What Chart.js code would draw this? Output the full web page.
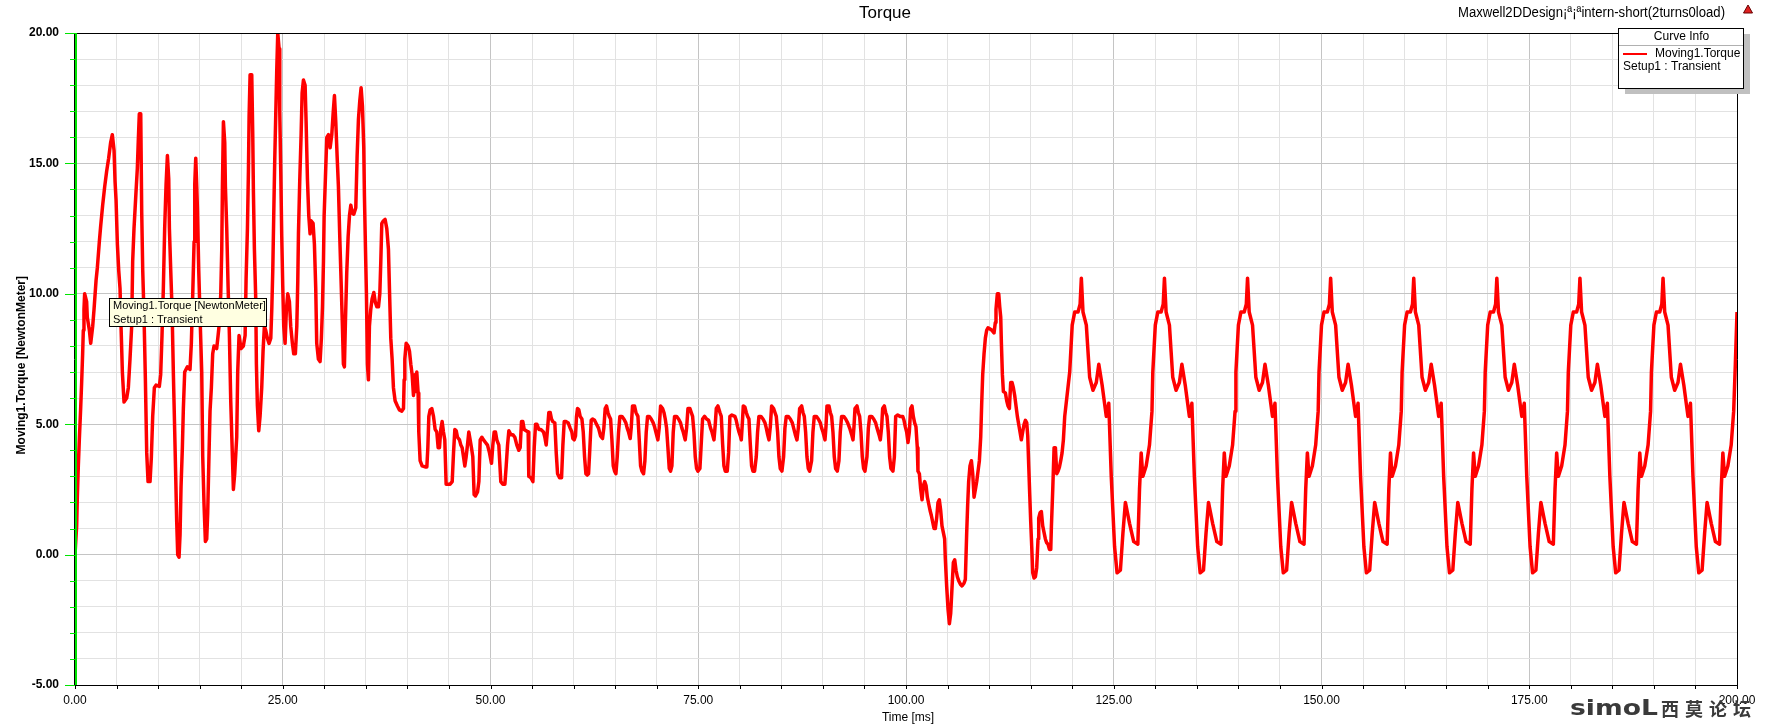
<!DOCTYPE html>
<html>
<head>
<meta charset="utf-8">
<script src="https://cdn.jsdelivr.net/npm/chart.js@4.4.1/dist/chart.umd.min.js"></script>
<style>
html,body{margin:0;padding:0;background:#fff;}
#wrap{width:1771px;height:728px;position:relative;overflow:hidden;}
</style>
</head>
<body>
<div id="wrap"><canvas id="c" width="1771" height="728"></canvas></div>
<script>
const chartTitle = "Torque";
const designLabel = "Maxwell2DDesign¡ª¡ªintern-short(2turns0load)";
const xAxisTitle = "Time [ms]";
const yAxisTitle = "Moving1.Torque [NewtonMeter]";
const legendTitle = "Curve Info";
const seriesName = "Moving1.Torque";
const seriesSetup = "Setup1 : Transient";
const noteLines = ["Moving1.Torque [NewtonMeter]", "Setup1 : Transient"];
const watermarkLatin = "simoL";
const watermarkCJK = "西莫论坛";
const xRange = [0, 200];
const yRange = [-5, 20];
const xLabelEvery = 25;
const yLabelEvery = 5;

// [time ms, torque N·m]
const startupSamples = [
[0,0.0],[0.2,1.1],[0.28,2.2],[0.4,3.4],[0.52,4.4],[0.68,5.6],[0.8,6.6],[0.92,7.7],[1.0,8.6],[1.08,9.4],[1.16,10.0],[1.40,9.7],[1.48,9.1],[1.73,8.6],[1.89,8.1],[2.13,8.75],[2.29,9.4],[2.53,10.5],[2.69,11.0],[2.93,12.0],[3.09,12.6],[3.33,13.4],[3.57,14.1],[3.81,14.7],[4.05,15.2],[4.29,15.8],[4.49,16.1],[4.70,15.5],[4.82,14.3],[4.94,13.6],[5.10,11.9],[5.26,10.9],[5.42,10.2],[5.54,8.75],[5.70,7.0],[5.90,5.85],[6.22,6.0],[6.42,6.4],[6.62,7.5],[6.82,8.75],[6.94,11.25],[7.10,12.5],[7.34,13.9],[7.50,14.8],[7.62,15.9],[7.74,16.9],[7.91,16.9],[8.03,13.1],[8.15,10.9],[8.31,9.1],[8.47,6.7],[8.63,3.9],[8.79,2.8],[9.03,2.8],[9.19,3.75],[9.35,5.3],[9.55,6.4],[9.75,6.5],[10.15,6.45],[10.31,6.9],[10.47,8.4],[10.63,10.2],[10.79,12.5],[10.96,14.2],[11.12,15.3],[11.28,14.4],[11.36,12.5],[11.52,10.9],[11.68,9.4],[11.84,6.9],[12.0,4.7],[12.12,3.0],[12.24,1.25],[12.36,0.0],[12.52,-0.1],[12.64,0.75],[12.76,2.6],[12.92,4.1],[13.04,5.6],[13.20,7.0],[13.52,7.2],[13.84,7.1],[14.0,8.1],[14.17,10.0],[14.33,12.0],[14.41,14.2],[14.53,15.2],[14.65,14.1],[14.73,13.3],[14.89,10.9],[15.05,9.1],[15.25,7.0],[15.37,3.75],[15.53,1.9],[15.69,0.5],[15.85,0.6],[15.97,1.6],[16.13,3.9],[16.25,5.5],[16.41,6.4],[16.57,7.7],[16.73,8.0],[17.05,7.9],[17.22,8.4],[17.38,8.9],[17.54,10.0],[17.66,11.7],[17.74,14.1],[17.86,16.6],[18.02,15.8],[18.10,14.1],[18.26,12.5],[18.42,10.3],[18.58,8.4],[18.74,5.9],[18.90,4.2],[19.06,2.5],[19.22,3.1],
[19.46,4.5],[19.58,7.0],[19.74,8.4],[19.98,7.9],[20.26,8.0],[20.47,8.4],[20.59,10.6],[20.75,12.5],[20.87,14.7],[20.95,16.8],[21.07,18.4],[21.27,18.4],[21.39,16.1],[21.47,13.9],[21.59,11.7],[21.75,9.8],[21.83,7.3],[21.95,5.7],[22.11,4.75],[22.27,5.3],[22.47,6.4],[22.63,7.8],[22.79,8.75],[22.95,8.6],[23.15,8.3],[23.35,8.1],[23.56,8.3],[23.68,9.4],[23.80,10.9],[23.92,13.1],[24.04,15.2],[24.16,16.9],[24.28,18.6],[24.40,20.0],[24.56,19.4],[24.64,17.0],[24.76,14.7],[24.88,12.2],[25.0,10.3],[25.12,8.75],[25.28,8.1],[25.44,9.4],[25.60,10.0],[25.80,9.7],[25.96,8.75],[26.16,8.1],[26.32,7.7],[26.52,7.7],[26.69,8.75],[26.81,10.5],[26.89,12.3],[27.05,14.4],[27.21,16.1],[27.33,17.7],[27.49,18.2],[27.69,18.0],[27.81,16.6],[27.97,14.4],[28.13,13.0],[28.29,12.3],[28.41,12.8],[28.65,12.7],[28.81,11.9],[28.97,10.2],[29.09,8.1],[29.29,7.5],[29.49,7.4],[29.65,8.3],[29.78,9.5],[29.90,11.25],[29.98,13.0],[30.14,14.5],[30.30,16.0],[30.50,16.1],[30.70,15.6],[30.90,16.1],[31.06,16.9],[31.22,17.6],[31.38,16.6],[31.54,15.3],[31.70,14.1],[31.86,12.2],[32.02,10.5],[32.18,8.75],[32.30,7.3],[32.42,7.2],[32.54,8.9],[32.70,10.8],[32.87,12.2],[33.03,13.0],[33.19,13.4],[33.35,13.1],[33.55,13.05],[33.79,13.3],[33.95,15.3],[34.11,16.7],[34.27,17.4],[34.43,17.9],[34.59,17.2],[34.75,15.6],[34.83,13.75],[34.95,11.8],[35.07,10.0],[35.19,7.3],[35.31,6.7],[35.43,8.75],[35.59,9.4],[35.75,9.8],[35.96,10.05],[36.12,9.7],[36.32,9.5],[36.52,9.5],[36.68,10.0],[36.80,11.25],[36.92,12.7],[37.12,12.8],[37.32,12.85],[37.52,12.5],[37.72,11.7],[37.84,10.2],[38.0,8.3],[38.16,7.5],[38.32,6.4],[38.52,5.9],[38.80,5.7],[39.04,5.55]
];

const settleSamples = [
[39.33,5.5],[39.53,5.6],[39.61,6.7],[39.69,7.5],[39.85,8.1],[40.09,8.0],[40.25,7.8],[40.41,7.3],[40.57,6.9],[40.73,6.1],[40.89,6.9],[41.01,6.25],[41.13,7.0],[41.29,6.2],[41.37,4.7],[41.53,3.6],[41.77,3.4],[42.13,3.36],[42.34,3.36],[42.46,4.1],[42.58,5.3],[42.74,5.55],[42.94,5.6],[43.14,5.3],[43.34,4.8],[43.54,4.7],[43.70,4.1],[43.86,4.1],[44.02,4.8],[44.18,5.1],[44.34,4.7],[44.50,4.4],[44.66,2.7],[44.82,2.7],[45.14,2.7],[45.39,2.8],[45.55,3.9],[45.71,4.8],[45.87,4.75],[46.03,4.5],[46.27,4.4],[46.43,4.2],[46.59,4.1],[46.75,3.75],[46.91,3.4],[47.07,3.75],[47.23,4.2],[47.39,4.7],[47.55,4.4],[47.71,4.1],[47.87,3.75],[48.03,2.3],[48.19,2.25],[48.44,2.4],[48.60,2.8],[48.76,4.4],[48.96,4.5],[49.16,4.4],[49.40,4.3],[49.64,4.2],[49.88,3.9],[50.12,3.5],[50.28,4.2],[50.44,4.7],[50.60,4.7],[50.76,4.4],[51.0,4.2],[51.24,2.8],[51.48,2.7],[51.73,2.7],[51.89,3.4],[52.05,4.2],[52.21,4.75],[52.45,4.6],[52.69,4.6],[52.93,4.5],[53.17,4.2],[53.41,4.0],[53.57,4.1],[53.73,5.1],[53.89,5.1],[54.05,4.8],[54.29,4.75],[54.53,4.7],[54.61,3.0],[54.86,2.95],[55.10,2.8],[55.26,4.1],[55.42,5.0],[55.58,5.0],[55.82,4.8],[56.06,4.8],[56.38,4.7],[56.54,4.5],[56.70,4.2],[56.86,4.8],[57.02,5.45],[57.18,5.45],[57.34,5.2],[57.50,5.1],[57.74,5.05],[57.91,3.9],[58.07,3.1],[58.31,2.95],[58.55,2.95],[58.71,4.2],[58.87,5.1],[59.11,5.1],[59.35,5.05],
[59.59,4.85],[59.79,4.7],[59.91,4.45],[60.07,4.4],[60.23,4.55],[60.35,5.3],[60.47,5.6],[60.63,5.55],[60.79,5.3],[61.0,5.2],[61.16,4.7],[61.32,3.75],[61.48,3.1],[61.64,3.05],[61.80,3.1],[61.96,4.1],[62.12,5.15],[62.28,5.2],[62.52,5.15],[62.76,5.0],[63.0,4.85],[63.24,4.55],[63.48,4.45],[63.64,4.85],[63.80,5.6],[63.96,5.7],[64.13,5.45],[64.29,5.3],[64.45,5.2],[64.61,4.4],[64.77,3.4],[64.93,3.2],[65.09,3.1],[65.25,3.75],[65.41,4.7],[65.57,5.3],[65.81,5.3],[66.05,5.2],[66.29,5.05],[66.45,4.85],[66.61,4.7],[66.81,4.45],[66.93,4.85],[67.09,5.7],[67.33,5.7],[67.50,5.45],[67.74,5.3],[67.90,4.4],[68.06,3.4],[68.22,3.2],[68.42,3.1],[68.58,3.6],[68.74,4.7],[68.90,5.3],[69.10,5.3],[69.34,5.2],[69.58,5.05],[69.74,4.9],[69.90,4.7],[70.14,4.4],[70.30,4.85],[70.47,5.7],[70.71,5.6],[70.87,5.45],[71.03,5.2],[71.19,4.85],[71.35,4.1],[71.51,3.3],[71.67,3.2],[71.83,3.4],[71.99,4.7],[72.15,5.3],[72.39,5.3],[72.63,5.2],[72.87,5.05],[73.03,4.85],[73.19,4.7],[73.43,4.4],[73.60,4.85],[73.76,5.6],[74.0,5.6],[74.16,5.45],[74.32,5.3],[74.48,4.7],[74.64,3.75],[74.80,3.3],[74.96,3.2],[75.20,3.3],[75.36,4.25],[75.52,5.2],[75.76,5.3],[76.00,5.2],[76.24,5.15],[76.48,4.85],[76.65,4.7],[76.89,4.4],[77.05,5.0],[77.17,5.6],[77.37,5.7],[77.61,5.45],[77.77,5.3],[77.93,4.25],[78.09,3.4],[78.25,3.2],[78.49,3.2],[78.65,3.9],[78.81,5.3],[79.05,5.35],[79.41,5.3],
[79.57,5.15],[79.74,4.9],[79.90,4.7],[80.06,4.55],[80.18,4.4],[80.30,5.0],[80.42,5.7],[80.62,5.65],[80.78,5.45],[80.94,5.3],[81.10,5.2],[81.26,4.25],[81.42,3.4],[81.58,3.2],[81.78,3.2],[81.98,3.75],[82.14,4.7],[82.30,5.3],[82.54,5.3],[82.79,5.2],[83.03,5.05],[83.19,4.85],[83.35,4.6],[83.51,4.4],[83.67,4.9],[83.83,5.7],[84.07,5.6],[84.23,5.45],[84.39,5.3],[84.55,4.7],[84.71,3.75],[84.87,3.3],[85.07,3.2],[85.27,3.75],[85.43,4.85],[85.59,5.3],[85.83,5.3],[86.08,5.2],[86.32,5.05],[86.48,4.85],[86.68,4.6],[86.88,4.4],[87.04,4.85],[87.20,5.6],[87.44,5.7],[87.60,5.45],[87.76,5.3],[87.92,4.7],[88.08,3.75],[88.24,3.3],[88.40,3.2],[88.64,3.6],[88.80,4.7],[88.96,5.3],[89.21,5.3],[89.45,5.2],[89.69,5.05],[89.85,4.85],[90.01,4.7],[90.25,4.4],[90.37,4.9],[90.49,5.7],[90.73,5.7],[90.89,5.45],[91.05,5.3],[91.21,4.7],[91.37,3.75],[91.53,3.3],[91.73,3.2],[91.93,3.6],[92.09,4.7],[92.25,5.3],[92.50,5.3],[92.74,5.2],[92.98,5.05],[93.22,4.85],[93.46,4.6],[93.62,4.4],[93.74,4.9],[93.86,5.6],[94.10,5.7],[94.26,5.45],[94.42,5.3],[94.58,4.7],[94.74,3.75],[94.90,3.3],[95.06,3.2],[95.30,3.75],[95.47,4.85],[95.63,5.3],[95.87,5.3],[96.11,5.2],[96.35,5.05],[96.51,4.85],[96.75,4.6],[96.91,4.4],[97.07,4.9],[97.19,5.6],[97.39,5.7],[97.55,5.45],[97.71,5.3],[97.87,4.7],[98.03,3.75],[98.19,3.3],[98.43,3.2],[98.60,3.75],[98.76,5.3],[99.0,5.35],[99.28,5.3]
];

const transientSamples = [
[99.44,5.3],[99.60,5.3],[99.76,5.15],[99.92,4.9],[100.08,4.7],[100.24,4.3],[100.40,4.7],[100.56,5.6],[100.72,5.7],[100.88,5.3],[101.04,5.05],[101.20,4.9],[101.36,4.1],[101.44,3.2],[101.61,3.1],[101.77,2.5],[101.93,2.1],[102.09,2.65],[102.25,2.8],[102.41,2.65],[102.57,2.2],[102.73,1.95],[102.89,1.7],[103.05,1.5],[103.21,1.25],[103.37,1.0],[103.53,1.0],[103.69,1.4],[103.85,2.0],[104.01,2.1],[104.17,1.7],[104.33,1.1],[104.49,0.85],[104.65,0.6],[104.73,-0.15],[104.90,-1.25],[105.06,-2.1],[105.22,-2.65],[105.38,-2.25],[105.54,-1.25],[105.70,-0.3],[105.86,-0.2],[106.02,-0.6],[106.18,-0.85],[106.34,-1.0],[106.58,-1.15],[106.74,-1.2],[106.98,-1.1],[107.14,-0.95],[107.30,0.8],[107.42,1.9],[107.54,2.8],[107.70,3.4],[107.87,3.6],[108.03,3.1],[108.19,2.2],[108.35,2.5],[108.51,2.8],[108.67,3.2],[108.83,3.6],[108.99,4.5],[109.11,5.8],[109.23,6.9],[109.39,7.7],[109.55,8.3],[109.71,8.6],[109.87,8.7],[110.11,8.65],[110.35,8.6],[110.59,8.5],[110.75,8.9],[110.83,9.4],[110.99,10.0],[111.16,10.0],[111.28,9.5],[111.40,9.1],[111.48,8.1],[111.60,6.9],[111.72,6.25],[111.96,6.2],[112.12,5.9],[112.28,5.7],[112.44,5.6],[112.60,6.6],[112.76,6.6],[112.92,6.4],[113.08,6.1],[113.24,5.7],[113.40,5.3],[113.56,5.0],[113.72,4.7],[113.88,4.4],[114.04,4.7],[114.21,5.0],[114.37,5.15],[114.53,5.05],[114.65,4.55],[114.77,3.4],[114.89,2.3],[115.01,1.25],[115.13,0.3],[115.25,-0.7],[115.41,-0.9],[115.57,-0.85],[115.73,-0.5],[115.89,0.6],[115.97,1.4],[116.13,1.6],[116.29,1.65],[116.45,1.1],[116.61,0.85],[116.77,0.6],[116.93,0.45],[117.09,0.4],[117.26,0.2],[117.42,0.2],[117.50,1.1],[117.66,2.5],[117.82,4.1],[117.98,4.1],[118.14,3.1],[118.30,3.2],[118.46,3.35],[118.62,3.6],[118.78,3.9],[118.94,4.4],[119.10,5.3]
];

const steadySamples = [
[119.7,7.0],[120.0,8.8],[120.3,9.3],[120.7,9.3],[120.95,9.6],[121.1,10.6],[121.3,9.3],[121.7,8.8],[122.1,6.8],[122.5,6.3],[122.9,6.6],[123.2,7.3],[123.6,6.5],[124.1,5.3],[124.4,5.8],[124.7,3.0],[125.1,0.3],[125.4,-0.7],[125.8,-0.6],[126.1,0.8],[126.4,2.0],[126.9,1.2],[127.4,0.5],[127.9,0.4],[128.1,2.5],[128.3,3.9],[128.5,3.0],[128.9,3.4],[129.3,4.2],[129.6,5.5],
[129.7,7.0],[130.0,8.8],[130.3,9.3],[130.7,9.3],[130.95,9.6],[131.1,10.6],[131.3,9.3],[131.7,8.8],[132.1,6.8],[132.5,6.3],[132.9,6.6],[133.2,7.3],[133.6,6.5],[134.1,5.3],[134.4,5.8],[134.7,3.0],[135.1,0.3],[135.4,-0.7],[135.8,-0.6],[136.1,0.8],[136.4,2.0],[136.9,1.2],[137.4,0.5],[137.9,0.4],[138.1,2.5],[138.3,3.9],[138.5,3.0],[138.9,3.4],[139.3,4.2],[139.6,5.5],
[139.7,7.0],[140.0,8.8],[140.3,9.3],[140.7,9.3],[140.95,9.6],[141.1,10.6],[141.3,9.3],[141.7,8.8],[142.1,6.8],[142.5,6.3],[142.9,6.6],[143.2,7.3],[143.6,6.5],[144.1,5.3],[144.4,5.8],[144.7,3.0],[145.1,0.3],[145.4,-0.7],[145.8,-0.6],[146.1,0.8],[146.4,2.0],[146.9,1.2],[147.4,0.5],[147.9,0.4],[148.1,2.5],[148.3,3.9],[148.5,3.0],[148.9,3.4],[149.3,4.2],[149.6,5.5],
[149.7,7.0],[150.0,8.8],[150.3,9.3],[150.7,9.3],[150.95,9.6],[151.1,10.6],[151.3,9.3],[151.7,8.8],[152.1,6.8],[152.5,6.3],[152.9,6.6],[153.2,7.3],[153.6,6.5],[154.1,5.3],[154.4,5.8],[154.7,3.0],[155.1,0.3],[155.4,-0.7],[155.8,-0.6],[156.1,0.8],[156.4,2.0],[156.9,1.2],[157.4,0.5],[157.9,0.4],[158.1,2.5],[158.3,3.9],[158.5,3.0],[158.9,3.4],[159.3,4.2],[159.6,5.5],
[159.7,7.0],[160.0,8.8],[160.3,9.3],[160.7,9.3],[160.95,9.6],[161.1,10.6],[161.3,9.3],[161.7,8.8],[162.1,6.8],[162.5,6.3],[162.9,6.6],[163.2,7.3],[163.6,6.5],[164.1,5.3],[164.4,5.8],[164.7,3.0],[165.1,0.3],[165.4,-0.7],[165.8,-0.6],[166.1,0.8],[166.4,2.0],[166.9,1.2],[167.4,0.5],[167.9,0.4],[168.1,2.5],[168.3,3.9],[168.5,3.0],[168.9,3.4],[169.3,4.2],[169.6,5.5],
[169.7,7.0],[170.0,8.8],[170.3,9.3],[170.7,9.3],[170.95,9.6],[171.1,10.6],[171.3,9.3],[171.7,8.8],[172.1,6.8],[172.5,6.3],[172.9,6.6],[173.2,7.3],[173.6,6.5],[174.1,5.3],[174.4,5.8],[174.7,3.0],[175.1,0.3],[175.4,-0.7],[175.8,-0.6],[176.1,0.8],[176.4,2.0],[176.9,1.2],[177.4,0.5],[177.9,0.4],[178.1,2.5],[178.3,3.9],[178.5,3.0],[178.9,3.4],[179.3,4.2],[179.6,5.5],
[179.7,7.0],[180.0,8.8],[180.3,9.3],[180.7,9.3],[180.95,9.6],[181.1,10.6],[181.3,9.3],[181.7,8.8],[182.1,6.8],[182.5,6.3],[182.9,6.6],[183.2,7.3],[183.6,6.5],[184.1,5.3],[184.4,5.8],[184.7,3.0],[185.1,0.3],[185.4,-0.7],[185.8,-0.6],[186.1,0.8],[186.4,2.0],[186.9,1.2],[187.4,0.5],[187.9,0.4],[188.1,2.5],[188.3,3.9],[188.5,3.0],[188.9,3.4],[189.3,4.2],[189.6,5.5],
[189.7,7.0],[190.0,8.8],[190.3,9.3],[190.7,9.3],[190.95,9.6],[191.1,10.6],[191.3,9.3],[191.7,8.8],[192.1,6.8],[192.5,6.3],[192.9,6.6],[193.2,7.3],[193.6,6.5],[194.1,5.3],[194.4,5.8],[194.7,3.0],[195.1,0.3],[195.4,-0.7],[195.8,-0.6],[196.1,0.8],[196.4,2.0],[196.9,1.2],[197.4,0.5],[197.9,0.4],[198.1,2.5],[198.3,3.9],[198.5,3.0],[198.9,3.4],[199.3,4.2],[199.6,5.5],[199.8,7.3],[200.0,9.3]
];

const FONT = "'Liberation Sans', Arial, sans-serif";
const torquePoints = [...startupSamples, ...settleSamples, ...transientSamples, ...steadySamples]
  .map(([t, v]) => ({x: t, y: v}));

function fitText(ctx, text, x, y, width, align) {
  const w = ctx.measureText(text).width;
  ctx.save();
  const left = align === 'right' ? x - width : x;
  ctx.translate(left, y);
  ctx.scale(width / w, 1);
  ctx.textAlign = 'left';
  ctx.fillText(text, 0, 0);
  ctx.restore();
}

const overlay = {
  id: 'overlay',
  afterDraw(chart) {
    const {ctx, chartArea: a, scales: {x, y}} = chart;
    ctx.save();
    // plot frame
    ctx.strokeStyle = '#000';
    ctx.lineWidth = 1;
    ctx.beginPath();
    ctx.moveTo(a.left - 0.5, a.top + 0.5); ctx.lineTo(a.right + 0.5, a.top + 0.5);
    ctx.lineTo(a.right + 0.5, a.bottom + 0.5); ctx.lineTo(a.left - 0.5, a.bottom + 0.5);
    ctx.lineTo(a.left - 0.5, a.top + 0.5);
    ctx.stroke();
    // green y axis
    ctx.strokeStyle = '#00e400';
    ctx.lineWidth = 2;
    ctx.beginPath(); ctx.moveTo(a.left + 1, a.top); ctx.lineTo(a.left + 1, a.bottom); ctx.stroke();
    ctx.lineWidth = 1;
    for (let v = yRange[0]; v <= yRange[1]; v += 1) {
      const py = Math.round(y.getPixelForValue(v)) + 0.5;
      const len = (v % yLabelEvery === 0) ? 10 : 5;
      ctx.beginPath(); ctx.moveTo(a.left - len, py); ctx.lineTo(a.left, py); ctx.stroke();
    }
    // x ticks
    ctx.strokeStyle = '#000';
    for (let v = xRange[0]; v <= xRange[1]; v += 5) {
      const px = Math.round(x.getPixelForValue(v)) + 0.5;
      ctx.beginPath(); ctx.moveTo(px, a.bottom); ctx.lineTo(px, a.bottom + 4); ctx.stroke();
    }
    // titles
    ctx.fillStyle = '#000';
    ctx.textBaseline = 'middle';
    ctx.textAlign = 'center';
    ctx.font = '17px ' + FONT;
    ctx.fillText(chartTitle, 885, 13);
    ctx.font = '12px ' + FONT;
    ctx.fillText(xAxisTitle, (a.left + a.right) / 2 + 2, 718);
    ctx.save();
    ctx.translate(22, 276);
    ctx.rotate(-Math.PI / 2);
    ctx.textAlign = 'right';
    ctx.font = 'bold 12px ' + FONT;
    ctx.fillText(yAxisTitle, 0, 0);
    ctx.restore();
    ctx.font = '14px ' + FONT;
    fitText(ctx, designLabel, 1725, 13, 267, 'right');
    // small warning icon
    ctx.fillStyle = '#e02020';
    ctx.beginPath(); ctx.moveTo(1748, 5); ctx.lineTo(1752.5, 13); ctx.lineTo(1743.5, 13); ctx.closePath(); ctx.fill();
    ctx.strokeStyle = '#600'; ctx.stroke();
    // legend box
    const bx = 1618, by = 28, bw = 125, bh = 60;
    ctx.fillStyle = '#c0c0c0';
    ctx.fillRect(bx + 7, by + 6, bw, bh);
    ctx.fillStyle = '#fff';
    ctx.fillRect(bx, by, bw, bh);
    ctx.strokeStyle = '#000';
    ctx.strokeRect(bx + 0.5, by + 0.5, bw, bh);
    ctx.strokeStyle = '#b0b0b0';
    ctx.beginPath(); ctx.moveTo(bx + 1, by + 17.5); ctx.lineTo(bx + bw, by + 17.5); ctx.stroke();
    ctx.fillStyle = '#000';
    ctx.textAlign = 'center';
    ctx.font = '12px ' + FONT;
    ctx.fillText(legendTitle, bx + bw / 2 + 1, by + 9);
    ctx.strokeStyle = '#ff0000'; ctx.lineWidth = 2;
    ctx.beginPath(); ctx.moveTo(bx + 5, by + 26); ctx.lineTo(bx + 29, by + 26); ctx.stroke();
    ctx.textAlign = 'left';
    ctx.fillText(seriesName, bx + 37, by + 26);
    ctx.fillText(seriesSetup, bx + 5, by + 39);
    // note box
    ctx.lineWidth = 1;
    ctx.fillStyle = '#ffffe1';
    ctx.fillRect(109, 298, 157, 28);
    ctx.strokeStyle = '#000';
    ctx.strokeRect(109.5, 298.5, 157, 28);
    ctx.fillStyle = '#000';
    ctx.font = '11px ' + FONT;
    ctx.fillText(noteLines[0], 113, 306);
    ctx.fillText(noteLines[1], 113, 320);
    // watermark
    ctx.fillStyle = '#3a3a3a';
    ctx.textBaseline = 'alphabetic';
    ctx.font = 'bold 26px "DejaVu Sans"';
    const w1 = ctx.measureText(watermarkLatin).width;
    ctx.save();
    ctx.translate(1570, 715);
    ctx.scale(88 / w1, 0.8);
    ctx.fillText(watermarkLatin, 0, 0);
    ctx.restore();
    ctx.font = 'bold 18px "Noto Sans CJK SC"';
    const chars = Array.from(watermarkCJK);
    chars.forEach((ch, i) => ctx.fillText(ch, 1661 + i * 24, 716));
    ctx.restore();
  }
};

new Chart(document.getElementById('c'), {
  type: 'line',
  data: {
    datasets: [{
      label: seriesName,
      data: torquePoints,
      borderColor: '#ff0000',
      borderWidth: 3.5,
      borderJoinStyle: 'round',
      pointRadius: 0,
      tension: 0,
      fill: false
    }]
  },
  options: {
    responsive: false,
    animation: false,
    devicePixelRatio: 1,
    layout: {padding: {left: 0, right: 34, top: 33, bottom: 0}},
    plugins: {legend: {display: false}, tooltip: {enabled: false}, title: {display: false}},
    scales: {
      x: {
        type: 'linear', min: xRange[0], max: xRange[1],
        afterFit: s => { s.height = 43; },
        border: {display: false},
        grid: {
          drawTicks: false,
          color: c => (c.tick && c.tick.value % xLabelEvery === 0) ? '#c4c4c4' : '#e2e2e2',
          lineWidth: 1
        },
        ticks: {
          stepSize: 5, autoSkip: false, maxRotation: 0, padding: 8, color: '#000',
          font: {family: FONT, size: 12},
          callback: v => (v % xLabelEvery === 0) ? v.toFixed(2) : ''
        }
      },
      y: {
        type: 'linear', min: yRange[0], max: yRange[1],
        afterFit: s => { s.width = 75; },
        border: {display: false},
        grid: {
          drawTicks: false,
          color: c => (c.tick && c.tick.value % yLabelEvery === 0) ? '#c4c4c4' : '#e2e2e2',
          lineWidth: 1
        },
        ticks: {
          stepSize: 1, autoSkip: false, padding: 16, color: '#000',
          font: {family: FONT, size: 12, weight: 'bold'},
          callback: v => (v % yLabelEvery === 0) ? v.toFixed(2) : ''
        }
      }
    }
  },
  plugins: [overlay]
});
</script>
</body>
</html>
